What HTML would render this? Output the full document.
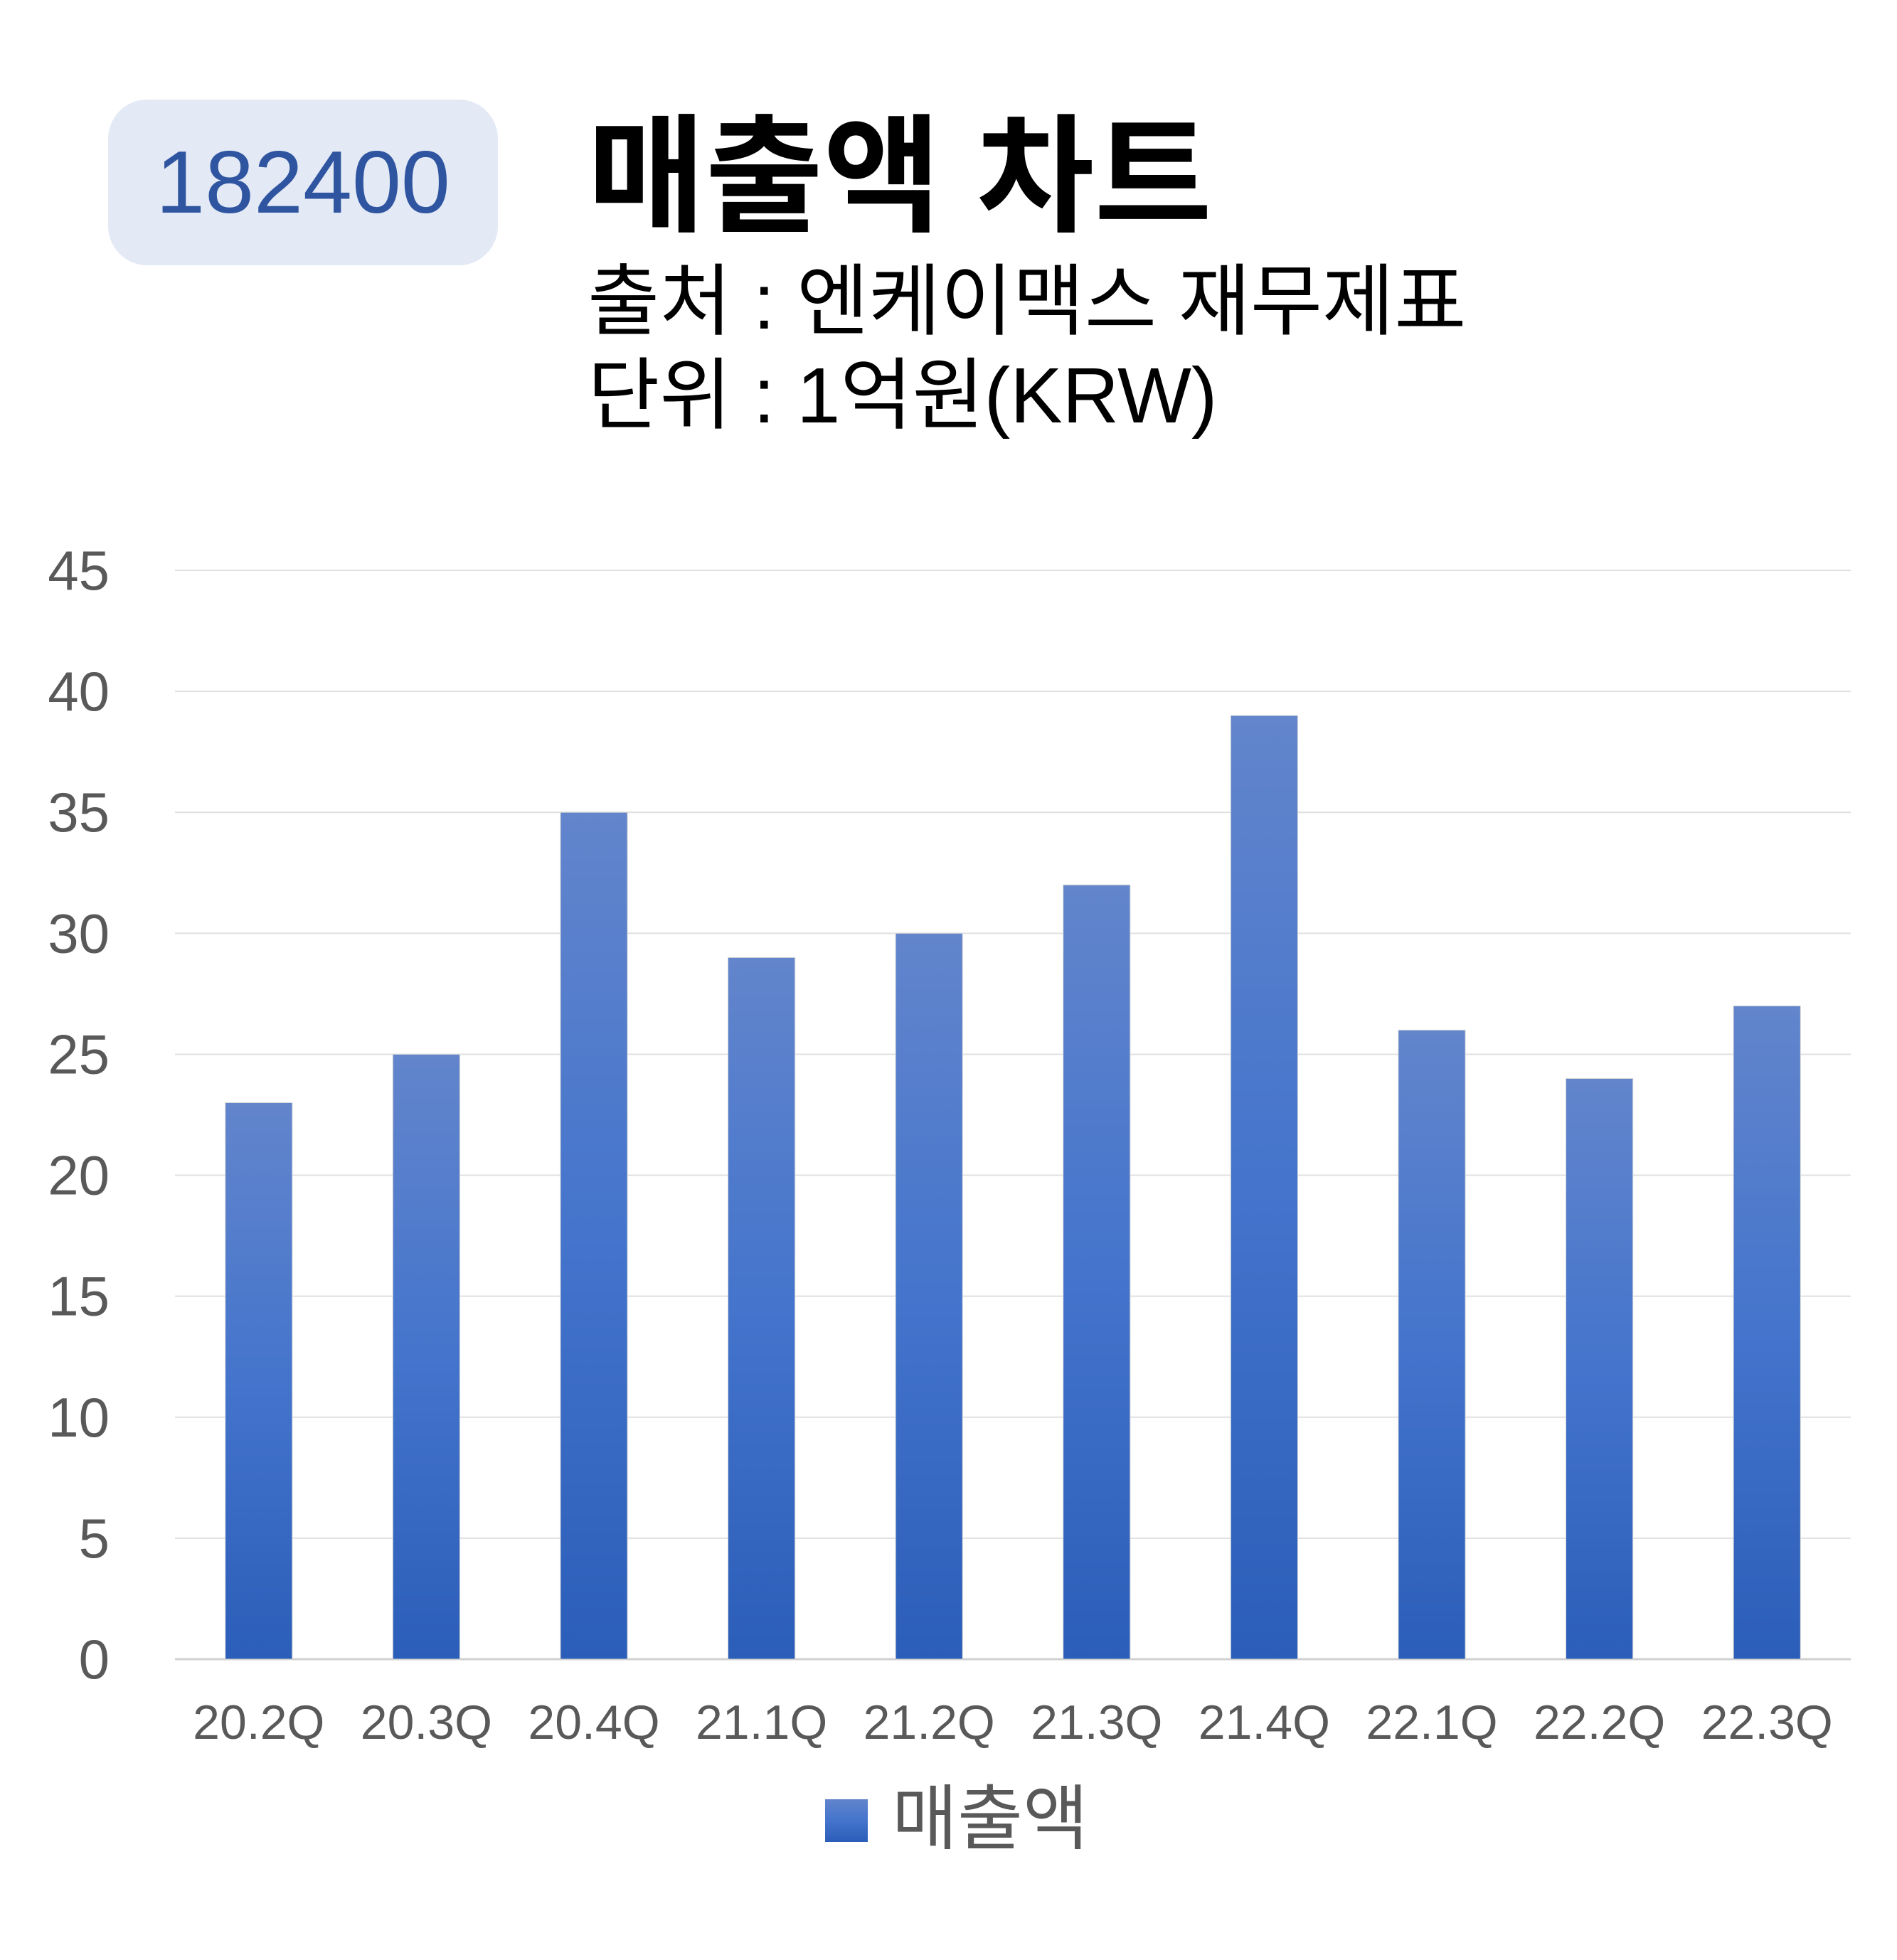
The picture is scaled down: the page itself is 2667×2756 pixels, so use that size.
<!DOCTYPE html>
<html><head><meta charset="utf-8">
<style>
body{margin:0;width:2667px;height:2756px;background:#fff;overflow:hidden;font-family:"Liberation Sans","Noto Sans CJK KR",sans-serif;}
#badge{position:absolute;left:152px;top:140px;width:548px;height:233px;border-radius:55px;background:#e3e9f5;color:#2f55a0;font-size:124px;display:flex;align-items:center;justify-content:center;}
.t{position:absolute;left:826px;white-space:nowrap;color:#000;}
</style></head><body>
<div id="badge">182400</div>
<div class="t" style="top:150px;font-size:180px;font-weight:bold;line-height:200px;">매출액 차트</div>
<div class="t" style="top:360px;font-size:110px;line-height:130px;">출처 : 엔케이맥스 재무제표</div>
<div class="t" style="top:492px;font-size:110px;line-height:130px;">단위 : 1억원(KRW)</div>
<svg id="chart" width="2667" height="2756" style="position:absolute;left:0;top:0">
<defs><linearGradient id="g" x1="0" y1="0" x2="0" y2="1"><stop offset="0" stop-color="#6285cc"/><stop offset="0.5" stop-color="#4474cc"/><stop offset="1" stop-color="#2b5eb9"/></linearGradient></defs>
</svg>
<script>
const categories=["20.2Q","20.3Q","20.4Q","21.1Q","21.2Q","21.3Q","21.4Q","22.1Q","22.2Q","22.3Q"];
const values=[23,25,35,29,30,32,39,26,24,27];
const yTicks=[0,5,10,15,20,25,30,35,40,45];
const svg=document.getElementById('chart');
const NS='http://www.w3.org/2000/svg';
const L=246,R=2602,T=802,B=2333,yMax=45;
const y=v=>B-(v/yMax)*(B-T);
const band=(R-L)/categories.length;
const x=i=>L+band*(i+0.5);
function mk(t,a){const e=document.createElementNS(NS,t);for(const k in a)e.setAttribute(k,a[k]);svg.appendChild(e);return e;}
yTicks.forEach(v=>{
 const l=mk('line',{x1:L,x2:R,y1:y(v),y2:y(v),stroke:v===0?'#d0d0d0':'#e0e0e0','stroke-width':v===0?3:2});
 
 
 const t=mk('text',{x:154,y:y(v)+27,'text-anchor':'end','font-size':78,fill:'#595959','font-family':'Liberation Sans, sans-serif'});
 t.textContent=v;
 
 
});
const bw=band*0.4;
values.forEach((v,i)=>{
 const r=mk('rect',{x:x(i)-bw/2,y:y(v),width:bw,height:B-y(v),fill:'url(#g)',stroke:'#d8d8d8','stroke-width':1});
 
 
 const t=mk('text',{x:x(i),y:2445,'text-anchor':'middle','font-size':68,fill:'#595959','font-family':'Liberation Sans, sans-serif'});
 t.textContent=categories[i];
 
 
});
const lg=mk('rect',{x:1160,y:2530,width:60,height:60,fill:'url(#g)'});


const lt=mk('text',{x:1254,y:2592,'font-size':100,fill:'#595959','font-family':'Liberation Sans, Noto Sans CJK KR, sans-serif'});
lt.textContent='매출액';


</script>
</body></html>
